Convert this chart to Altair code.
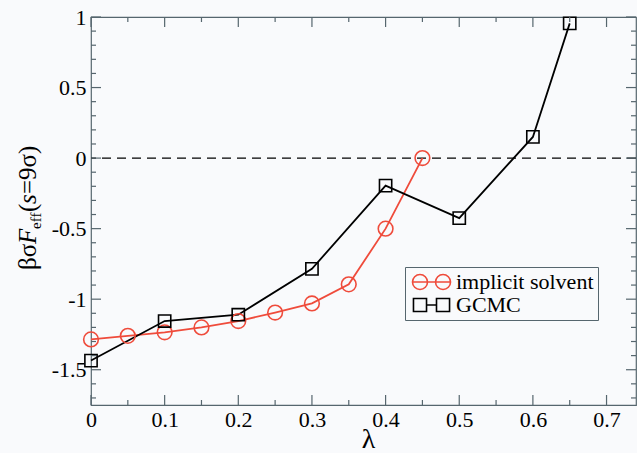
import altair as alt
import pandas as pd

# ---- data ----
lam_implicit = [0.0, 0.05, 0.10, 0.15, 0.20, 0.25, 0.30, 0.35, 0.40, 0.45]
f_implicit = [-1.285, -1.26, -1.235, -1.20, -1.155, -1.095, -1.03, -0.895, -0.50, 0.0]
lam_gcmc = [0.0, 0.10, 0.20, 0.30, 0.40, 0.50, 0.60, 0.65]
f_gcmc = [-1.435, -1.155, -1.11, -0.785, -0.195, -0.425, 0.15, 0.955]
series_names = ["implicit solvent", "GCMC"]

x_major = [0.0, 0.1, 0.2, 0.3, 0.4, 0.5, 0.6, 0.7]
x_minor = [0.05, 0.15, 0.25, 0.35, 0.45, 0.55, 0.65]
y_major = [-1.5, -1.0, -0.5, 0.0, 0.5, 1.0]
y_minor = [-1.7, -1.6, -1.4, -1.3, -1.2, -1.1, -0.9, -0.8, -0.7, -0.6,
           -0.4, -0.3, -0.2, -0.1, 0.1, 0.2, 0.3, 0.4, 0.6, 0.7, 0.8, 0.9]
ytitle_parts = ["βσ", "F", "eff", "(", "s", "=9σ)"]
xtitle = "λ"

# ---- styling ----
W, H = 545, 388
BG = "#f9fafc"
FRAME = "#56666e"
RED = "#ef4b3b"
FONT = "Liberation Serif"
MAJ, MIN = 10, 5

df = pd.DataFrame({
    "lam": lam_implicit + lam_gcmc,
    "F": f_implicit + f_gcmc,
    "series": [series_names[0]] * len(lam_implicit) + [series_names[1]] * len(lam_gcmc),
})

xs = alt.Scale(domain=[0, 0.74], nice=False, zero=False)
ys = alt.Scale(domain=[-1.75, 1.0], nice=False, zero=False)
cs = alt.Scale(domain=series_names, range=[RED, "black"])

circ_path = ("M-1,0 H4.07 M1,0 A1,1 0 1,1 -1,0 A1,1 0 1,1 1,0 "
             "M4.07,0 A1,1 0 1,1 2.07,0 A1,1 0 1,1 4.07,0")
sq_path = ("M-0.87,-0.87 H0.87 V0.87 H-0.87 Z M0.87,0 H2.2 "
           "M2.2,-0.87 H3.94 V0.87 H2.2 Z")
ss_legend = alt.Scale(domain=series_names, range=[circ_path, sq_path])

common_axis = dict(ticks=False, domain=False, grid=False,
                   labelFont=FONT, labelFontSize=22, labelColor="black", labelFlush=False,
                   titleFont=FONT, titleFontSize=28, titleFontWeight="normal",
                   titleColor="black")
xaxis = alt.Axis(values=x_major, format="~g", labelPadding=4,
                 titleBaseline="top", titleY=20, titleX=277, **common_axis)
yaxis = alt.Axis(values=y_major, format="~g", labelPadding=5,
                 labelExpr="replace(datum.label, '\u2212', '-')", **common_axis)
X = lambda: alt.X("lam:Q", scale=xs, title=xtitle, axis=xaxis)
Y = lambda: alt.Y("F:Q", scale=ys, title=None, axis=yaxis)

base = alt.Chart(df)

lines = base.mark_line(strokeWidth=1.8).encode(
    x=X(), y=Y(),
    color=alt.Color("series:N", scale=cs, legend=None),
    detail="series:N",
    order="lam:Q",
)

circles = base.transform_filter(alt.datum.series == series_names[0]).mark_point(
    filled=False, strokeWidth=1.6, size=215, opacity=1, shape="circle").encode(
    x=X(), y=Y(), color=alt.Color("series:N", scale=cs, legend=None))
squares = base.transform_filter(alt.datum.series == series_names[1]).mark_point(
    filled=False, strokeWidth=1.6, size=150, opacity=1, shape="square").encode(
    x=X(), y=Y(), color=alt.Color("series:N", scale=cs, legend=None))

leg = alt.Legend(
    orient="none", legendX=314, legendY=250, title=None, direction="vertical",
    symbolSize=225, symbolStrokeWidth=1.6, symbolFillColor="transparent", symbolOpacity=1,
    labelFont=FONT, labelFontSize=22, labelColor="black", labelOffset=25, labelLimit=400,
    strokeColor=FRAME, fillColor=BG, padding=4, rowPadding=1,
)
legend_layer = base.mark_point(filled=False, opacity=0, size=225).encode(
    x=X(), y=Y(),
    color=alt.Color("series:N", scale=cs, legend=leg),
    shape=alt.Shape("series:N", scale=ss_legend, legend=leg),
)

zero = alt.Chart(pd.DataFrame({"F": [0.0]})).mark_rule(
    color="black", strokeWidth=1.4, strokeDash=[9, 6]).encode(y=Y())

# inward ticks on all four sides
tick_layers = []
for lst, ln in ((x_major, MAJ), (x_minor, MIN)):
    d = pd.DataFrame({"lam": lst})
    tick_layers.append(alt.Chart(d).mark_rule(color=FRAME, strokeWidth=1.2).encode(
        x=X(), y=alt.value(H), y2=alt.value(H - ln)))
    tick_layers.append(alt.Chart(d).mark_rule(color=FRAME, strokeWidth=1.2).encode(
        x=X(), y=alt.value(0), y2=alt.value(ln)))
for lst, ln in ((y_major, MAJ), (y_minor, MIN)):
    d = pd.DataFrame({"F": lst})
    tick_layers.append(alt.Chart(d).mark_rule(color=FRAME, strokeWidth=1.2).encode(
        y=Y(), x=alt.value(0), x2=alt.value(ln)))
    tick_layers.append(alt.Chart(d).mark_rule(color=FRAME, strokeWidth=1.2).encode(
        y=Y(), x=alt.value(W), x2=alt.value(W - ln)))

# y-axis title assembled from pieces (rotated)
OX, OY = 91, 17
piece_specs = [  # (abs y start, abs x baseline, size, italic)
    (270, 36, 25, False),
    (244, 36, 25, True),
    (229, 41, 15, False),
    (212, 36, 25, False),
    (204, 36, 25, True),
    (194, 36, 25, False),
]
title_layers = []
for txt, (py, px, fs, it) in zip(ytitle_parts, piece_specs):
    title_layers.append(
        alt.Chart(pd.DataFrame({"t": [txt]})).mark_text(
            font=FONT, fontSize=fs, fontStyle="italic" if it else "normal",
            angle=270, align="left", baseline="alphabetic", color="black",
        ).encode(text="t:N", x=alt.value(px - OX), y=alt.value(py - OY))
    )

chart = alt.layer(
    zero, lines, circles, squares, legend_layer, *tick_layers, *title_layers
).resolve_legend(color="independent", shape="independent").properties(
    width=W, height=H,
    autosize=alt.AutoSizeParams(type="none"),
    padding={"left": OX, "top": OY, "right": 1, "bottom": 48},
).configure(
    background=BG,
    style={"guide-label": {"font": FONT, "fontSize": 22, "fill": "black"},
           "guide-title": {"font": FONT, "fontSize": 28, "fill": "black",
                           "fontWeight": "normal"}},
).configure_view(stroke=FRAME, strokeWidth=1.2)

chart.save("out.html", embed_options={"renderer": "svg", "actions": False})
